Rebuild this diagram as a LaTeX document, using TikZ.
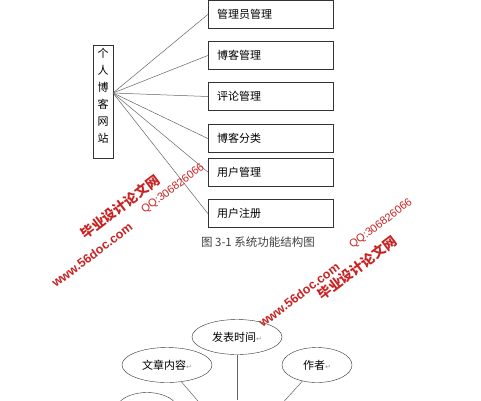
\documentclass[tikz,border=0pt]{standalone}
\usepackage{fontspec}
\usepackage{xcolor}
\usepackage{tikz}
\usetikzlibrary{shapes.geometric}
\newfontfamily\cjk{Noto Sans CJK SC}
\newfontfamily\sym{DejaVu Sans}
\setmainfont{Liberation Sans}
\definecolor{wmred}{RGB}{200,35,35}
\definecolor{linegray}{RGB}{100,100,100}
\newcommand{\ret}{{\sym\fontsize{7}{7}\selectfont\color{black!40}↵}}

\begin{document}
\begin{tikzpicture}[x=1pt,y=-1pt,
    func/.style={draw=black!80,rectangle,minimum width=125pt,minimum height=25pt,
        text width=107pt,inner sep=9pt,align=left,font=\cjk\fontsize{11}{13}\selectfont},
    attr/.style={draw=black!80,ellipse,minimum width=90pt,minimum height=35pt,
        font=\cjk\fontsize{11}{13}\selectfont},
    link/.style={draw=linegray,line width=0.5pt},
    wm/.style={text=wmred,rotate=37,inner sep=0pt}]
    \useasboundingbox (0,0) rectangle (481,400);
    \clip (0,0) rectangle (481,400);
    % system function structure
    \node[draw=black!80,rectangle,minimum width=20pt,minimum height=113pt,inner sep=0pt] (site) at (103,101.5) {};
    \node[align=center,inner sep=0pt,font=\cjk\fontsize{11}{17}\selectfont] (sitetext) at (103,96) {个\\人\\博\\客\\网\\站};
    \coordinate (root) at (113,93);
    \node[func] (admin) at (270.5,14.5) {管理员管理};
    \node[func] (blog) at (270.5,55.5) {博客管理};
    \node[func] (comment) at (270.5,96.5) {评论管理};
    \node[func] (category) at (270.5,138.5) {博客分类};
    \node[func] (user) at (270.5,172) {用户管理};
    \node[func] (register) at (270.5,213.5) {用户注册};
    \draw[link] (root) to (admin.west);
    \draw[link] (root) to (blog.west);
    \draw[link] (root) to (comment.west);
    \draw[link] (root) to (category.west);
    \draw[link] (root) to (user.west);
    \draw[link] (root) to (register.west);
    \node[font=\cjk\fontsize{11.5}{13}\selectfont,text=black!75] (caption) at (258,242) {图\ 3-1 系统功能结构图};
    % article attributes
    \coordinate (article) at (240,450);
    \node[attr] (time) at (237,337) {发表时间\ret};
    \node[attr] (content) at (167,365) {文章内容\ret};
    \node[attr,minimum width=70pt] (author) at (317,365) {作者\ret};
    \node[attr,minimum width=62pt] (title) at (147,410) {};
    \draw[link] (237,355) to (237,400);
    \draw[link] (content) to (article);
    \draw[link] (author) to (article);
    % watermarks
    \node[wm,font=\cjk\bfseries\fontsize{13.5}{13.5}\selectfont] (wm1) at (120,207) {毕业设计论文网};
    \node[wm,font=\fontsize{11}{11}\selectfont] (wm2) at (173,189) {QQ:306826066};
    \node[wm,font=\bfseries\fontsize{12.5}{12.5}\selectfont] (wm3) at (92,255) {www.56doc.com};
    \node[wm,font=\cjk\bfseries\fontsize{13.5}{13.5}\selectfont] (wm4) at (357,268) {毕业设计论文网};
    \node[wm,font=\fontsize{11}{11}\selectfont] (wm5) at (381,224) {QQ:306826066};
    \node[wm,font=\bfseries\fontsize{12.5}{12.5}\selectfont] (wm6) at (299,295) {www.56doc.com};
\end{tikzpicture}
\end{document}
